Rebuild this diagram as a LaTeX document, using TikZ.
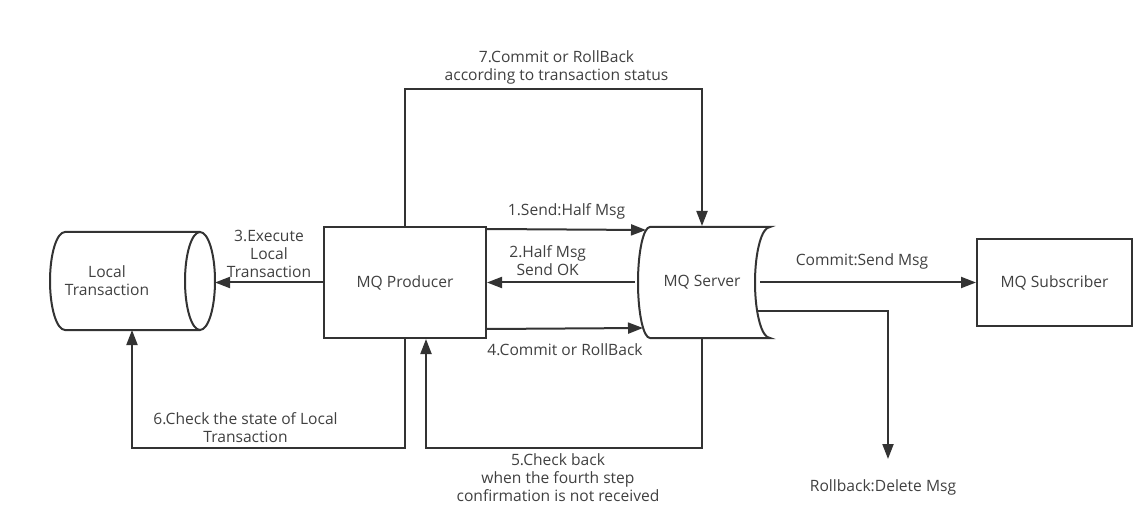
\documentclass[tikz,border=0pt]{standalone}
\usepackage{fontspec}
\setmainfont{Open Sans}
\usepackage{tikz}
\usetikzlibrary{arrows.meta,positioning}

\definecolor{linegray}{HTML}{333333}
\definecolor{textgray}{HTML}{404040}

\begin{document}
\begin{tikzpicture}[
    x = 1pt, y = 1pt, % one unit per pixel of the sketch
    > = {Triangle[length=15pt,width=11pt]}, % arrow head style
    line width = 2pt, % line style
    color = linegray,
    font = \fontsize{15.6}{18}\selectfont
    ]

    \tikzset{every node/.style={
    text = textgray,
    align = center,
    inner sep = 0pt
    }}
    \tikzset{box/.style={
    draw = linegray,
    rectangle
    }}

    \useasboundingbox (0,0) rectangle (1148,528);

    % local transaction store
    \node (lt) at (107,247) {Local\\Transaction};
    \draw (200,296) -- (65,296) arc[start angle=90, end angle=270, x radius=15, y radius=49] -- (200,198);
    \draw (200,247) ellipse[x radius=15, y radius=49];
    \coordinate (lt-end) at (215,247);
    \coordinate (lt-bot) at (132,198);

    \node[box, minimum width=162, minimum height=111] (prod) at (405,245.5) {MQ Producer};

    % mq server (stored data shape)
    \node[minimum width=132, minimum height=111] (srv) at (702,245.5) {MQ Server};
    \draw (650,301) -- (770,301) arc[start angle=90, end angle=270, x radius=15, y radius=55.5]
      -- (650,190) arc[start angle=270, end angle=90, x radius=12, y radius=55.5] -- cycle;
    \coordinate (srv-in1) at (646,298);
    \coordinate (srv-in4) at (643,200);
    \coordinate (srv-out) at (760,245.5);
    \coordinate (srv-out2) at (757,217);

    \node[box, minimum width=155, minimum height=87] (sub) at (1054.5,245.5) {MQ Subscriber};
    \coordinate (del) at (888,69);

    \draw[->] ([yshift=-3]prod.north east) -- node[above=9pt]{1.Send:Half Msg} (srv-in1);
    \draw[->] (srv.west) -- node[pos=0.59, above=6pt]{2.Half Msg\\Send OK} (prod.east);
    \draw[->] (prod.west) -- node[pos=0.5, above=4pt]{3.Execute\\Local\\Transaction} (lt-end |- prod.west);
    \draw[->] ([yshift=10]prod.south east) -- node[below=14pt]{4.Commit or RollBack} (srv-in4);
    \draw[->] (srv.south) -- ++(0,-109) -| node[pos=0.25, below=5pt, xshift=-6pt]{5.Check back\\when the fourth step\\confirmation is not received} ([xshift=21]prod.south);
    \draw[->] (prod.south) -- ++(0,-109) -| node[pos=0.25, above=4pt, xshift=-23pt]{6.Check the state of Local\\Transaction} (lt-bot);
    \draw[->] (prod.north) -- ++(0,137) -| node[pos=0.25, above=4pt, xshift=3pt]{7.Commit or RollBack\\according to transaction status} (srv.north);

    \draw[->] (srv-out) -- node[above=12pt, xshift=-6pt]{Commit:Send Msg} (sub.west);
    \draw[->] (srv-out2) -| (del);
    \node[below=20pt of del, xshift=-5pt] (dellbl) {Rollback:Delete Msg};
\end{tikzpicture}
\end{document}
